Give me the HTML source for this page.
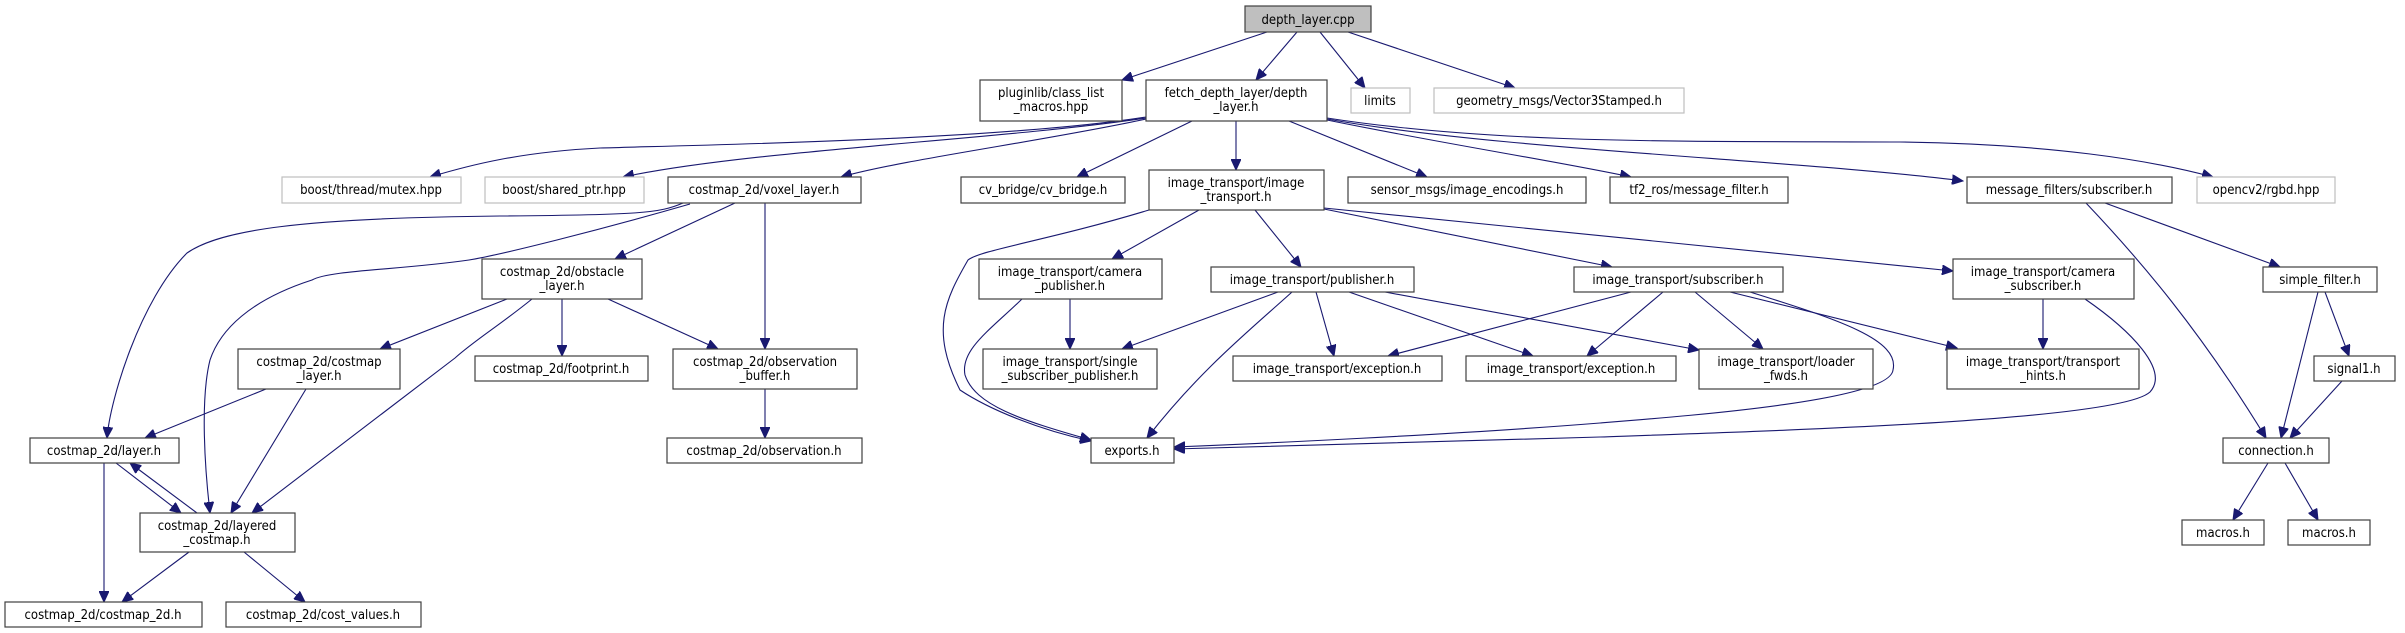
<!DOCTYPE html>
<html><head><meta charset="utf-8"><style>
html,body{margin:0;padding:0;background:#fff;}
svg{display:block;}
text{font-family:"DejaVu Sans Condensed","Liberation Sans",sans-serif;font-size:13px;fill:#000;text-anchor:middle;}
.n{fill:#fff;stroke:#404040;stroke-width:1.2;}
.g{fill:#fff;stroke:#bfbfbf;stroke-width:1.2;}
.r{fill:#bfbfbf;stroke:#404040;stroke-width:1.2;}
path{fill:none;stroke:#191970;stroke-width:1.1;}
</style></head><body>
<svg width="2405" height="633" viewBox="0 0 2405 633" xmlns="http://www.w3.org/2000/svg">
<defs><marker id="a" markerUnits="userSpaceOnUse" markerWidth="12" markerHeight="10" refX="11" refY="5" orient="auto"><path d="M0,0 L11,5 L0,10 Z" style="fill:#191970;stroke:#191970;stroke-width:1"/></marker></defs>
<g marker-end="url(#a)">
<path d="M1267,32 L1122,80"/>
<path d="M1297,32 L1256,80"/>
<path d="M1320,32 L1365,88"/>
<path d="M1348,32 L1515,88"/>
<path d="M1146,117 C1000,140 700,145 600,148 C520,152 470,165 430,177"/>
<path d="M1146,118 C1000,140 750,150 623,177"/>
<path d="M1146,119 C1050,140 900,160 841,177"/>
<path d="M1192,121 L1077,177"/>
<path d="M1236,121 L1236,170"/>
<path d="M1289,121 L1427,177"/>
<path d="M1327,120 C1450,145 1550,160 1631,177"/>
<path d="M1327,119 C1500,150 1800,160 1963,181"/>
<path d="M1327,118 C1500,145 1700,141 1900,142 C2050,144 2150,160 2213,177"/>
<path d="M683,203 C660,213 640,215 500,216 C300,218 220,230 187,253 C140,300 110,400 107,438"/>
<path d="M690,204 C600,230 500,255 469,260 C400,270 330,270 312,280 C250,300 220,330 210,360 C200,400 205,470 210,513"/>
<path d="M735,203 L615,259"/>
<path d="M765,203 L765,349"/>
<path d="M507,299 L380,349"/>
<path d="M532,299 C500,325 475,340 455,358 L252,513"/>
<path d="M562,299 L562,356"/>
<path d="M608,299 L718,349"/>
<path d="M266,389 L145,438"/>
<path d="M306,389 L231,513"/>
<path d="M104,463 L104,602"/>
<path d="M116,463 L181,513"/>
<path d="M197,513 L130,463"/>
<path d="M189,552 L122,602"/>
<path d="M244,552 L305,602"/>
<path d="M765,389 L765,438"/>
<path d="M1199,210 L1112,259"/>
<path d="M1255,210 L1301,267"/>
<path d="M1324,209 L1612,267"/>
<path d="M1324,208 L1953,271"/>
<path d="M1149,210 C1050,240 980,250 968,260 C945,300 930,330 960,390 C990,410 1040,430 1091,441"/>
<path d="M1022,299 C990,330 960,350 965,375 C975,405 1020,420 1091,440"/>
<path d="M1070,299 L1070,349"/>
<path d="M1278,292 L1122,349"/>
<path d="M1292,292 C1250,330 1200,370 1147,438"/>
<path d="M1316,292 L1334,356"/>
<path d="M1349,292 L1533,356"/>
<path d="M1385,292 L1699,350"/>
<path d="M1631,292 L1388,356"/>
<path d="M1663,292 L1587,356"/>
<path d="M1695,292 L1763,349"/>
<path d="M1730,292 L1957,348"/>
<path d="M1750,292 C1840,320 1900,340 1893,370 C1890,400 1700,415 1600,423 C1450,435 1250,444 1174,447"/>
<path d="M2043,299 L2043,349"/>
<path d="M2085,299 C2130,330 2170,370 2150,392 C2120,420 1800,430 1600,437 C1400,443 1250,447 1174,449"/>
<path d="M2105,203 L2280,267"/>
<path d="M2086,203 C2140,260 2200,330 2266,438"/>
<path d="M2318,292 L2281,438"/>
<path d="M2325,292 L2349,356"/>
<path d="M2342,381 L2290,438"/>
<path d="M2268,463 L2233,520"/>
<path d="M2285,463 L2318,520"/>
</g>
<rect class="r" x="1245" y="6" width="126" height="26"/><text x="1308" y="24">depth_layer.cpp</text>
<rect class="n" x="980" y="80" width="142" height="41"/><text x="1051" y="97">pluginlib/class_list</text><text x="1051" y="111">_macros.hpp</text>
<rect class="n" x="1146" y="80" width="181" height="41"/><text x="1236" y="97">fetch_depth_layer/depth</text><text x="1236" y="111">_layer.h</text>
<rect class="g" x="1351" y="88" width="59" height="25"/><text x="1380" y="105">limits</text>
<rect class="g" x="1434" y="88" width="250" height="25"/><text x="1559" y="105">geometry_msgs/Vector3Stamped.h</text>
<rect class="g" x="282" y="177" width="179" height="26"/><text x="371" y="194">boost/thread/mutex.hpp</text>
<rect class="g" x="485" y="177" width="159" height="26"/><text x="564" y="194">boost/shared_ptr.hpp</text>
<rect class="n" x="668" y="177" width="193" height="26"/><text x="764" y="194">costmap_2d/voxel_layer.h</text>
<rect class="n" x="961" y="177" width="164" height="26"/><text x="1043" y="194">cv_bridge/cv_bridge.h</text>
<rect class="n" x="1149" y="170" width="175" height="40"/><text x="1236" y="187">image_transport/image</text><text x="1236" y="201">_transport.h</text>
<rect class="n" x="1348" y="177" width="238" height="26"/><text x="1467" y="194">sensor_msgs/image_encodings.h</text>
<rect class="n" x="1610" y="177" width="178" height="26"/><text x="1699" y="194">tf2_ros/message_filter.h</text>
<rect class="n" x="1967" y="177" width="205" height="26"/><text x="2069" y="194">message_filters/subscriber.h</text>
<rect class="g" x="2197" y="177" width="138" height="26"/><text x="2266" y="194">opencv2/rgbd.hpp</text>
<rect class="n" x="482" y="259" width="160" height="40"/><text x="562" y="276">costmap_2d/obstacle</text><text x="562" y="290">_layer.h</text>
<rect class="n" x="979" y="259" width="183" height="40"/><text x="1070" y="276">image_transport/camera</text><text x="1070" y="290">_publisher.h</text>
<rect class="n" x="1211" y="267" width="203" height="25"/><text x="1312" y="284">image_transport/publisher.h</text>
<rect class="n" x="1574" y="267" width="209" height="25"/><text x="1678" y="284">image_transport/subscriber.h</text>
<rect class="n" x="1953" y="259" width="181" height="40"/><text x="2043" y="276">image_transport/camera</text><text x="2043" y="290">_subscriber.h</text>
<rect class="n" x="2263" y="267" width="114" height="25"/><text x="2320" y="284">simple_filter.h</text>
<rect class="n" x="238" y="349" width="162" height="40"/><text x="319" y="366">costmap_2d/costmap</text><text x="319" y="380">_layer.h</text>
<rect class="n" x="475" y="356" width="173" height="25"/><text x="561" y="373">costmap_2d/footprint.h</text>
<rect class="n" x="673" y="349" width="184" height="40"/><text x="765" y="366">costmap_2d/observation</text><text x="765" y="380">_buffer.h</text>
<rect class="n" x="983" y="349" width="174" height="40"/><text x="1070" y="366">image_transport/single</text><text x="1070" y="380">_subscriber_publisher.h</text>
<rect class="n" x="1233" y="356" width="209" height="25"/><text x="1337" y="373">image_transport/exception.h</text>
<rect class="n" x="1466" y="356" width="210" height="25"/><text x="1571" y="373">image_transport/exception.h</text>
<rect class="n" x="1699" y="349" width="174" height="40"/><text x="1786" y="366">image_transport/loader</text><text x="1786" y="380">_fwds.h</text>
<rect class="n" x="1947" y="349" width="192" height="40"/><text x="2043" y="366">image_transport/transport</text><text x="2043" y="380">_hints.h</text>
<rect class="n" x="2314" y="356" width="81" height="25"/><text x="2354" y="373">signal1.h</text>
<rect class="n" x="30" y="438" width="149" height="25"/><text x="104" y="455">costmap_2d/layer.h</text>
<rect class="n" x="667" y="438" width="195" height="25"/><text x="764" y="455">costmap_2d/observation.h</text>
<rect class="n" x="1091" y="438" width="83" height="25"/><text x="1132" y="455">exports.h</text>
<rect class="n" x="2223" y="438" width="106" height="25"/><text x="2276" y="455">connection.h</text>
<rect class="n" x="140" y="513" width="155" height="39"/><text x="217" y="530">costmap_2d/layered</text><text x="217" y="544">_costmap.h</text>
<rect class="n" x="5" y="602" width="197" height="25"/><text x="103" y="619">costmap_2d/costmap_2d.h</text>
<rect class="n" x="226" y="602" width="195" height="25"/><text x="323" y="619">costmap_2d/cost_values.h</text>
<rect class="n" x="2182" y="520" width="82" height="25"/><text x="2223" y="537">macros.h</text>
<rect class="n" x="2288" y="520" width="82" height="25"/><text x="2329" y="537">macros.h</text>
</svg>
</body></html>
